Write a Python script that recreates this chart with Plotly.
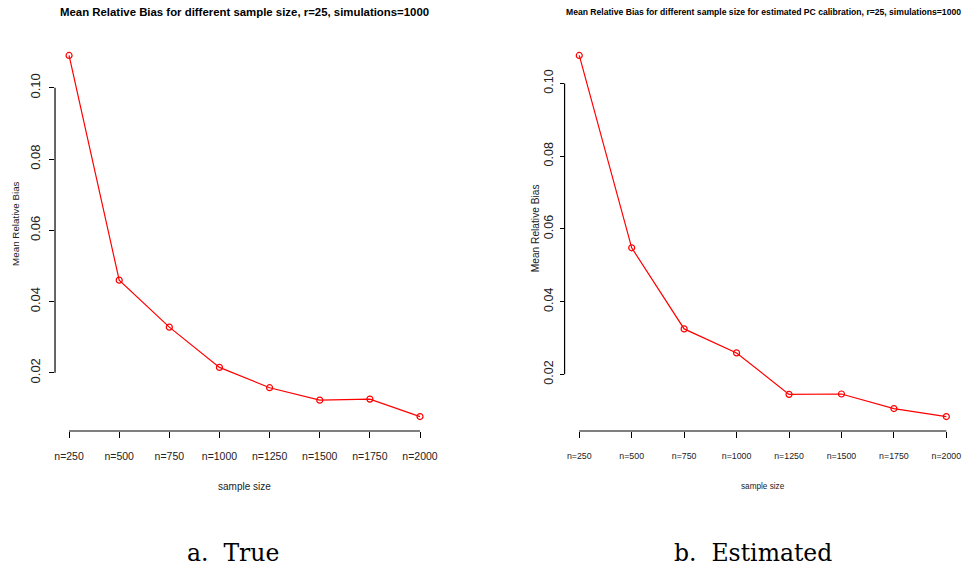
import plotly.graph_objects as go

categories = ["n=250", "n=500", "n=750", "n=1000", "n=1250", "n=1500", "n=1750", "n=2000"]
true_bias = [0.1091, 0.0460, 0.0328, 0.0215, 0.0158, 0.0123, 0.0126, 0.0077]
est_bias = [0.1077, 0.0548, 0.0325, 0.0259, 0.0145, 0.0146, 0.0106, 0.0084]
y_ticks = [0.02, 0.04, 0.06, 0.08, 0.10]
y_ticklabels = ["0.02", "0.04", "0.06", "0.08", "0.10"]

W, H = 971, 572
FONT = "Liberation Sans, Arial"

fig = go.Figure()
idx = list(range(len(categories)))

def pad_range(vals):
    lo, hi = min(vals), max(vals)
    d = (hi - lo) * 0.04
    return [lo - d, hi + d]

for ys, xa, ya in ((true_bias, "x", "y"), (est_bias, "x2", "y2")):
    fig.add_trace(go.Scatter(x=idx, y=ys, mode="lines+markers",
                             line=dict(color="red", width=1.2),
                             marker=dict(symbol="circle-open", size=6, color="red", line=dict(width=1.2)),
                             xaxis=xa, yaxis=ya, showlegend=False, hoverinfo="skip"))

xr = [-0.28, len(categories) - 1 + 0.28]
ydom = [1 - 431 / H, 1 - 41 / H]

common_x = dict(range=xr, showgrid=False, zeroline=False, showline=False,
                tickmode="array", tickvals=idx, ticktext=categories,
                ticks="outside", ticklen=6, tickcolor="black", tickwidth=1.2)
common_y = dict(showgrid=False, zeroline=False, showline=False,
                tickmode="array", tickvals=y_ticks, ticktext=y_ticklabels,
                ticks="outside", tickcolor="black", tickwidth=1.2, tickangle=-90)

fig.update_layout(
    width=W, height=H, margin=dict(l=0, r=0, t=0, b=0),
    plot_bgcolor="white", paper_bgcolor="white",
    xaxis=dict(domain=[54.3 / W, 435.3 / W], anchor="y", ticklabelstandoff=9,
               tickfont=dict(family=FONT, size=10.5, color="#222"), **common_x),
    yaxis=dict(domain=ydom, anchor="x", range=pad_range(true_bias), ticklen=5, ticklabelstandoff=4,
               tickfont=dict(family=FONT, size=13, color="#222"), **common_y),
    xaxis2=dict(domain=[566.5 / W, 965 / W], anchor="y2", ticklabelstandoff=10,
                tickfont=dict(family=FONT, size=8.8, color="#222"), **common_x),
    yaxis2=dict(domain=ydom, anchor="x2", range=pad_range(est_bias), ticklen=4, ticklabelstandoff=2,
                tickfont=dict(family=FONT, size=12.5, color="#222"), **common_y),
)

# R-style axis lines spanning only the tick range
for xa, ya in (("x", "y"), ("x2", "y2")):
    fig.add_shape(type="line", xref=xa, yref=ya + " domain", x0=idx[0], x1=idx[-1], y0=0, y1=0,
                  line=dict(color="black", width=1.2))
    fig.add_shape(type="line", xref=xa + " domain", yref=ya, x0=0, x1=0, y0=y_ticks[0], y1=y_ticks[-1],
                  line=dict(color="black", width=1.2))

def txt(text, x, y, size, family=FONT, angle=0, color="#222"):
    return dict(text=text, x=x / W, y=1 - y / H, xref="paper", yref="paper", showarrow=False,
                textangle=angle, font=dict(family=family, size=size, color=color),
                xanchor="center", yanchor="middle")

ann = [
    txt("<b>Mean Relative Bias for different sample size, r=25, simulations=1000</b>", 245, 12, 11.4, color="black"),
    txt("<b>Mean Relative Bias for different sample size for estimated PC calibration, r=25, simulations=1000</b>",
        766, 12, 8.6, color="black"),
    txt("sample size", 245, 486, 10),
    txt("sample size", 766, 486, 8.2),
    txt("Mean Relative Bias", 15, 223, 9.8, angle=-90),
    txt("Mean Relative Bias", 538, 228, 10.2, angle=-90),
    txt("a.  True", 233, 553, 23.5, family="DejaVu Serif, Liberation Serif", color="black"),
    txt("b.  Estimated", 756, 553, 23.5, family="DejaVu Serif, Liberation Serif", color="black"),
]
fig.update_layout(annotations=ann)

fig.write_html("out.html", config={"displayModeBar": False},
               post_script="document.body.style.margin='0px';document.body.style.overflow='hidden';")
